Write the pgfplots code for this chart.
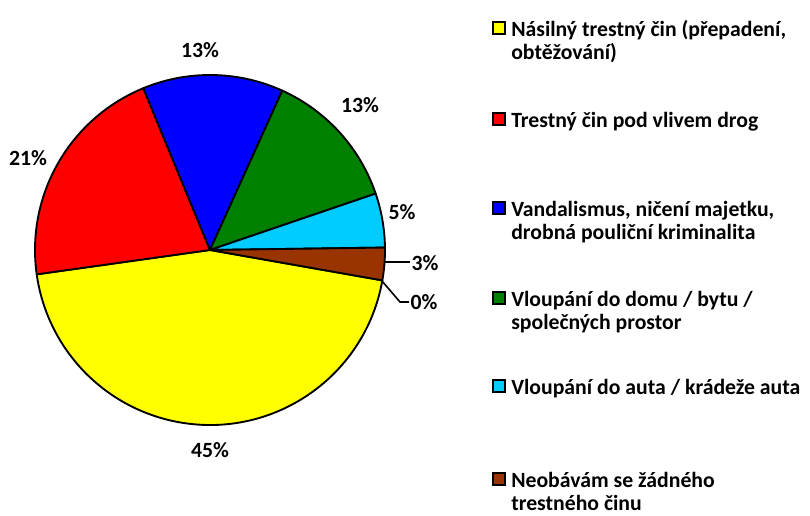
\documentclass[border=0pt]{standalone}
\usepackage{pgfplots}
\usepackage{pgfplotstable}
\pgfplotsset{compat=1.18}
\usepackage{fontspec}
\setmainfont{Carlito}

\definecolor{pieyellow}{RGB}{255,255,0}
\definecolor{piered}{RGB}{255,0,0}
\definecolor{pieblue}{RGB}{0,0,255}
\definecolor{piegreen}{RGB}{0,128,0}
\definecolor{piecyan}{RGB}{0,204,255}
\definecolor{piebrown}{RGB}{153,51,0}

% share (%), colour, label offset from centre (px)
\pgfplotstableread{
value col lx ly
45 pieyellow 0 -200
21 piered -182 92
13 pieblue -10 200
13 piegreen 150 145
5 piecyan 192 38
3 piebrown 215 -13
0 white 214 -52
}\piedata

\begin{document}
\begin{tikzpicture}[x=0.75pt,y=0.75pt,font=\fontsize{16.3}{19}\selectfont\bfseries]
\useasboundingbox (0,0) rectangle (810,516);
\begin{axis}[at={(210,266)}, anchor=origin, x=0.75pt, y=0.75pt,
  xmin=-180, xmax=180, ymin=-180, ymax=180, hide axis, clip=false]
\def\sa{-10}
\pgfplotsforeachungrouped \i in {0,...,6}{%
  \pgfplotstablegetelem{\i}{value}\of\piedata \let\v\pgfplotsretval
  \pgfplotstablegetelem{\i}{col}\of\piedata \let\c\pgfplotsretval
  \pgfplotstablegetelem{\i}{lx}\of\piedata \let\lx\pgfplotsretval
  \pgfplotstablegetelem{\i}{ly}\of\piedata \let\ly\pgfplotsretval
  \pgfmathsetmacro\ea{\sa-3.6*\v}
  \ifdim\v pt>0pt
    \edef\cmd{\noexpand\filldraw[fill=\c, draw=black, line width=1.4pt, line join=round]
      (axis cs:0,0) -- (axis cs:{175*cos(\sa)},{175*sin(\sa)})
      arc[start angle=\sa, end angle=\ea, radius=131.25pt] -- cycle;}%
    \cmd
  \fi
  \edef\cmd{\noexpand\node at (axis cs:\lx,\ly) {\v\noexpand\%};}%
  \cmd
  \global\let\sa\ea
}
% leader lines for the small slices
\draw[line width=1.2pt] (axis cs:175,-12) -- (axis cs:200,-12);
\draw[line width=1.2pt] (axis cs:172,-31) -- (axis cs:190,-52) -- (axis cs:199,-52);
\end{axis}

% legend
\newcommand\legbox[2]{\filldraw[fill=#1, draw=black, line width=1.2pt] (493,{516-#2+3}) rectangle (505,{516-#2+15});}
\newcommand\legline[2]{\node[anchor=base west, inner sep=0pt] at (511,{516-#1}) {#2};}
\legbox{pieyellow}{37}
\legline{37}{Násilný trestný čin (přepadení,}
\legline{60}{obtěžování)}
\legbox{piered}{128}
\legline{128}{Trestný čin pod vlivem drog}
\legbox{pieblue}{217}
\legline{217}{Vandalismus, ničení majetku,}
\legline{240}{drobná pouliční kriminalita}
\legbox{piegreen}{307}
\legline{307}{Vloupání do domu / bytu /}
\legline{330}{společných prostor}
\legbox{piecyan}{395}
\legline{395}{Vloupání do auta / krádeže auta}
\legbox{piebrown}{488}
\legline{488}{Neobávám se žádného}
\legline{511}{trestného činu}
\end{tikzpicture}
\end{document}
